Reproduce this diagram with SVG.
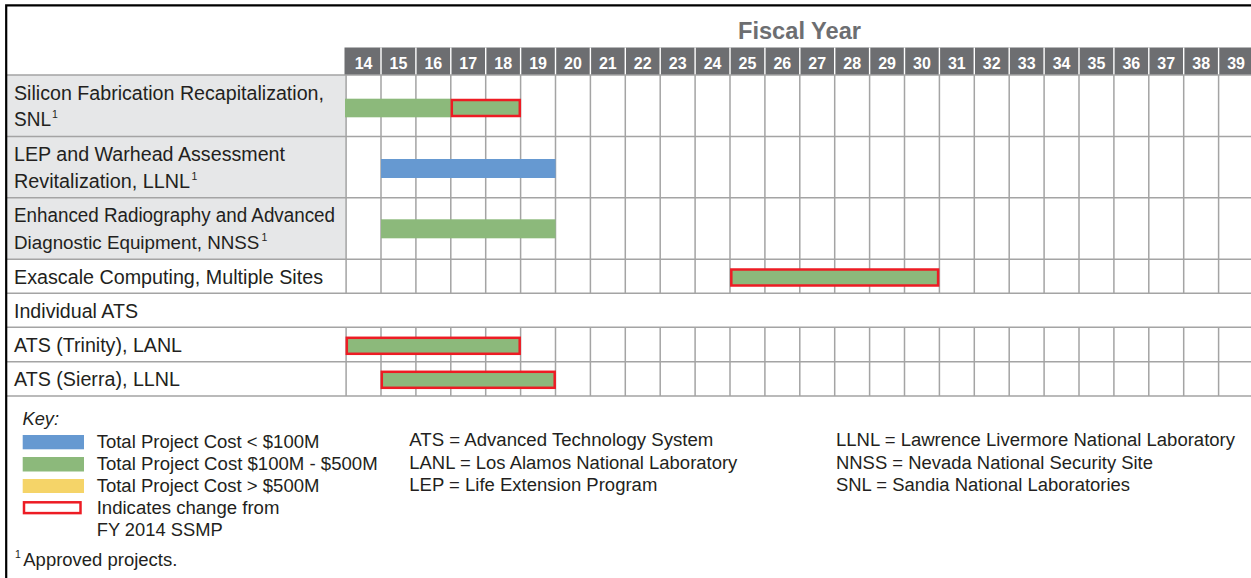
<svg xmlns="http://www.w3.org/2000/svg" width="1251" height="578" viewBox="0 0 1251 578">
<style>
.lbl{font-family:"Liberation Sans",Arial,sans-serif;font-size:19.5px;fill:#231f20}
.sup{font-family:"Liberation Sans",Arial,sans-serif;font-size:10.5px;fill:#231f20}
.key{font-family:"Liberation Sans",Arial,sans-serif;font-size:18px;fill:#231f20}
.yr{font-family:"Liberation Sans",Arial,sans-serif;font-size:16px;font-weight:bold;fill:#ffffff;text-anchor:middle}
.title{font-family:"Liberation Sans",Arial,sans-serif;font-size:23px;font-weight:bold;fill:#6d6e71}
.grid{stroke:#a4a4a4;stroke-width:1.5;fill:none}
.green{fill:#8cb97b}
.blue{fill:#6699d1}
.yellow{fill:#f5d468}
.chg{fill:#8cb97b;stroke:#ed1c24;stroke-width:2.5}
</style>
<rect x="0" y="0" width="1251" height="578" fill="#ffffff"/>
<g id="label-bg">
<rect x="7" y="75" width="339" height="184.2" fill="#e6e7e8"/>
</g>
<g id="header">
<text class="title" x="738" y="39.3" textLength="123" lengthAdjust="spacingAndGlyphs">Fiscal Year</text>
<rect x="344.5" y="47.5" width="906.5" height="27.5" fill="#6d6e71"/>
<path d="M381 47.5V75M415.9 47.5V75M450.8 47.5V75M485.7 47.5V75M520.6 47.5V75M555.5 47.5V75M590.4 47.5V75M625.3 47.5V75M660.2 47.5V75M695.1 47.5V75M730 47.5V75M764.9 47.5V75M799.8 47.5V75M834.7 47.5V75M869.6 47.5V75M904.5 47.5V75M939.4 47.5V75M974.3 47.5V75M1009.2 47.5V75M1044.1 47.5V75M1079 47.5V75M1113.9 47.5V75M1148.8 47.5V75M1183.7 47.5V75M1218.6 47.5V75" stroke="#ffffff" stroke-width="1.4" fill="none"/>
<text class="yr" x="363.55" y="68.5">14</text>
<text class="yr" x="398.45" y="68.5">15</text>
<text class="yr" x="433.35" y="68.5">16</text>
<text class="yr" x="468.25" y="68.5">17</text>
<text class="yr" x="503.15" y="68.5">18</text>
<text class="yr" x="538.05" y="68.5">19</text>
<text class="yr" x="572.95" y="68.5">20</text>
<text class="yr" x="607.85" y="68.5">21</text>
<text class="yr" x="642.75" y="68.5">22</text>
<text class="yr" x="677.65" y="68.5">23</text>
<text class="yr" x="712.55" y="68.5">24</text>
<text class="yr" x="747.45" y="68.5">25</text>
<text class="yr" x="782.35" y="68.5">26</text>
<text class="yr" x="817.25" y="68.5">27</text>
<text class="yr" x="852.15" y="68.5">28</text>
<text class="yr" x="887.05" y="68.5">29</text>
<text class="yr" x="921.95" y="68.5">30</text>
<text class="yr" x="956.85" y="68.5">31</text>
<text class="yr" x="991.75" y="68.5">32</text>
<text class="yr" x="1026.65" y="68.5">33</text>
<text class="yr" x="1061.55" y="68.5">34</text>
<text class="yr" x="1096.45" y="68.5">35</text>
<text class="yr" x="1131.35" y="68.5">36</text>
<text class="yr" x="1166.25" y="68.5">37</text>
<text class="yr" x="1201.15" y="68.5">38</text>
<text class="yr" x="1236.05" y="68.5">39</text>
</g>
<g id="grid" class="grid">
<path d="M7 75H1251M7 136.5H1251M7 197.7H1251M7 259.2H1251M7 293.3H1251M7 327.3H1251M7 361.7H1251M7 396H1251"/>
<path d="M346.1 75V293.3M346.1 327.3V396M381 75V293.3M381 327.3V396M415.9 75V293.3M415.9 327.3V396M450.8 75V293.3M450.8 327.3V396M485.7 75V293.3M485.7 327.3V396M520.6 75V293.3M520.6 327.3V396M555.5 75V293.3M555.5 327.3V396M590.4 75V293.3M590.4 327.3V396M625.3 75V293.3M625.3 327.3V396M660.2 75V293.3M660.2 327.3V396M695.1 75V293.3M695.1 327.3V396M730 75V293.3M730 327.3V396M764.9 75V293.3M764.9 327.3V396M799.8 75V293.3M799.8 327.3V396M834.7 75V293.3M834.7 327.3V396M869.6 75V293.3M869.6 327.3V396M904.5 75V293.3M904.5 327.3V396M939.4 75V293.3M939.4 327.3V396M974.3 75V293.3M974.3 327.3V396M1009.2 75V293.3M1009.2 327.3V396M1044.1 75V293.3M1044.1 327.3V396M1079 75V293.3M1079 327.3V396M1113.9 75V293.3M1113.9 327.3V396M1148.8 75V293.3M1148.8 327.3V396M1183.7 75V293.3M1183.7 327.3V396M1218.6 75V293.3M1218.6 327.3V396"/>
</g>
<g id="row-silicon">
<text class="lbl" x="14" y="99.5" textLength="310" lengthAdjust="spacingAndGlyphs">Silicon Fabrication Recapitalization,</text>
<text class="lbl" x="14" y="126"><tspan textLength="37" lengthAdjust="spacingAndGlyphs">SNL</tspan><tspan x="52" y="118" style="font-size:10.5px">1</tspan></text>
<rect class="green" x="345" y="98.7" width="106" height="18.6"/>
<rect class="chg" x="451.8" y="100" width="68" height="16"/>
</g>
<g id="row-lep">
<text class="lbl" x="14" y="160.5" textLength="271" lengthAdjust="spacingAndGlyphs">LEP and Warhead Assessment</text>
<text class="lbl" x="14" y="188"><tspan textLength="176" lengthAdjust="spacingAndGlyphs">Revitalization, LLNL</tspan><tspan x="191.5" y="180" style="font-size:10.5px">1</tspan></text>
<rect class="blue" x="381" y="159" width="174.6" height="19"/>
</g>
<g id="row-radiography">
<text class="lbl" x="14" y="221.5" textLength="321" lengthAdjust="spacingAndGlyphs">Enhanced Radiography and Advanced</text>
<text class="lbl" x="14" y="249" style="font-size:18.8px">Diagnostic Equipment, NNSS<tspan x="261.5" y="241" style="font-size:10.5px">1</tspan></text>
<rect class="green" x="381" y="219.3" width="174.6" height="19"/>
</g>
<g id="row-exascale">
<text class="lbl" x="14" y="283.5" textLength="309" lengthAdjust="spacingAndGlyphs">Exascale Computing, Multiple Sites</text>
<rect class="chg" x="731.3" y="269.5" width="206.8" height="16"/>
</g>
<g id="row-individual-ats">
<text class="lbl" x="14" y="317.5" textLength="124" lengthAdjust="spacingAndGlyphs">Individual ATS</text>
</g>
<g id="row-trinity">
<text class="lbl" x="14" y="351.5" textLength="168" lengthAdjust="spacingAndGlyphs">ATS (Trinity), LANL</text>
<rect class="chg" x="346.8" y="337.8" width="172.9" height="16"/>
</g>
<g id="row-sierra">
<text class="lbl" x="14" y="386" textLength="166" lengthAdjust="spacingAndGlyphs">ATS (Sierra), LLNL</text>
<rect class="chg" x="381.8" y="371.8" width="172.9" height="16"/>
</g>
<g id="key">
<text class="key" x="22.5" y="425" font-style="italic" textLength="36.5" lengthAdjust="spacingAndGlyphs">Key:</text>
<rect class="blue" x="22.7" y="435" width="61.3" height="14.3"/>
<rect class="green" x="22.7" y="457" width="61.3" height="14.5"/>
<rect class="yellow" x="22.7" y="479" width="61.3" height="14"/>
<rect x="24" y="502.3" width="56.5" height="10.8" fill="#ffffff" stroke="#ed1c24" stroke-width="2.5"/>
<text class="key" x="96.7" y="447.5" textLength="222.7" lengthAdjust="spacingAndGlyphs">Total Project Cost &lt; $100M</text>
<text class="key" x="96.7" y="470" textLength="281" lengthAdjust="spacingAndGlyphs">Total Project Cost $100M - $500M</text>
<text class="key" x="96.7" y="492" textLength="222.7" lengthAdjust="spacingAndGlyphs">Total Project Cost &gt; $500M</text>
<text class="key" x="96.7" y="514.3" textLength="182.7" lengthAdjust="spacingAndGlyphs">Indicates change from</text>
<text class="key" x="96.7" y="535.7" textLength="126" lengthAdjust="spacingAndGlyphs">FY 2014 SSMP</text>
</g>
<g id="abbreviations">
<text class="key" x="409.3" y="445.7" textLength="304" lengthAdjust="spacingAndGlyphs">ATS = Advanced Technology System</text>
<text class="key" x="409.3" y="468.5" textLength="328" lengthAdjust="spacingAndGlyphs">LANL = Los Alamos National Laboratory</text>
<text class="key" x="409.3" y="490.5" textLength="248" lengthAdjust="spacingAndGlyphs">LEP = Life Extension Program</text>
<text class="key" x="836" y="445.7" textLength="399" lengthAdjust="spacingAndGlyphs">LLNL = Lawrence Livermore National Laboratory</text>
<text class="key" x="836" y="468.5" textLength="317" lengthAdjust="spacingAndGlyphs">NNSS = Nevada National Security Site</text>
<text class="key" x="836" y="490.5" textLength="294" lengthAdjust="spacingAndGlyphs">SNL = Sandia National Laboratories</text>
</g>
<g id="footnote">
<text class="key" x="23.3" y="565.7"><tspan x="15" y="558" style="font-size:10.5px">1</tspan><tspan x="23.3" y="565.7" textLength="154" lengthAdjust="spacingAndGlyphs">Approved projects.</tspan></text>
</g>
<g id="frame">
<path d="M6.2 578V5.4H1251" stroke="#000000" stroke-width="2.2" fill="none"/>
</g>
</svg>
